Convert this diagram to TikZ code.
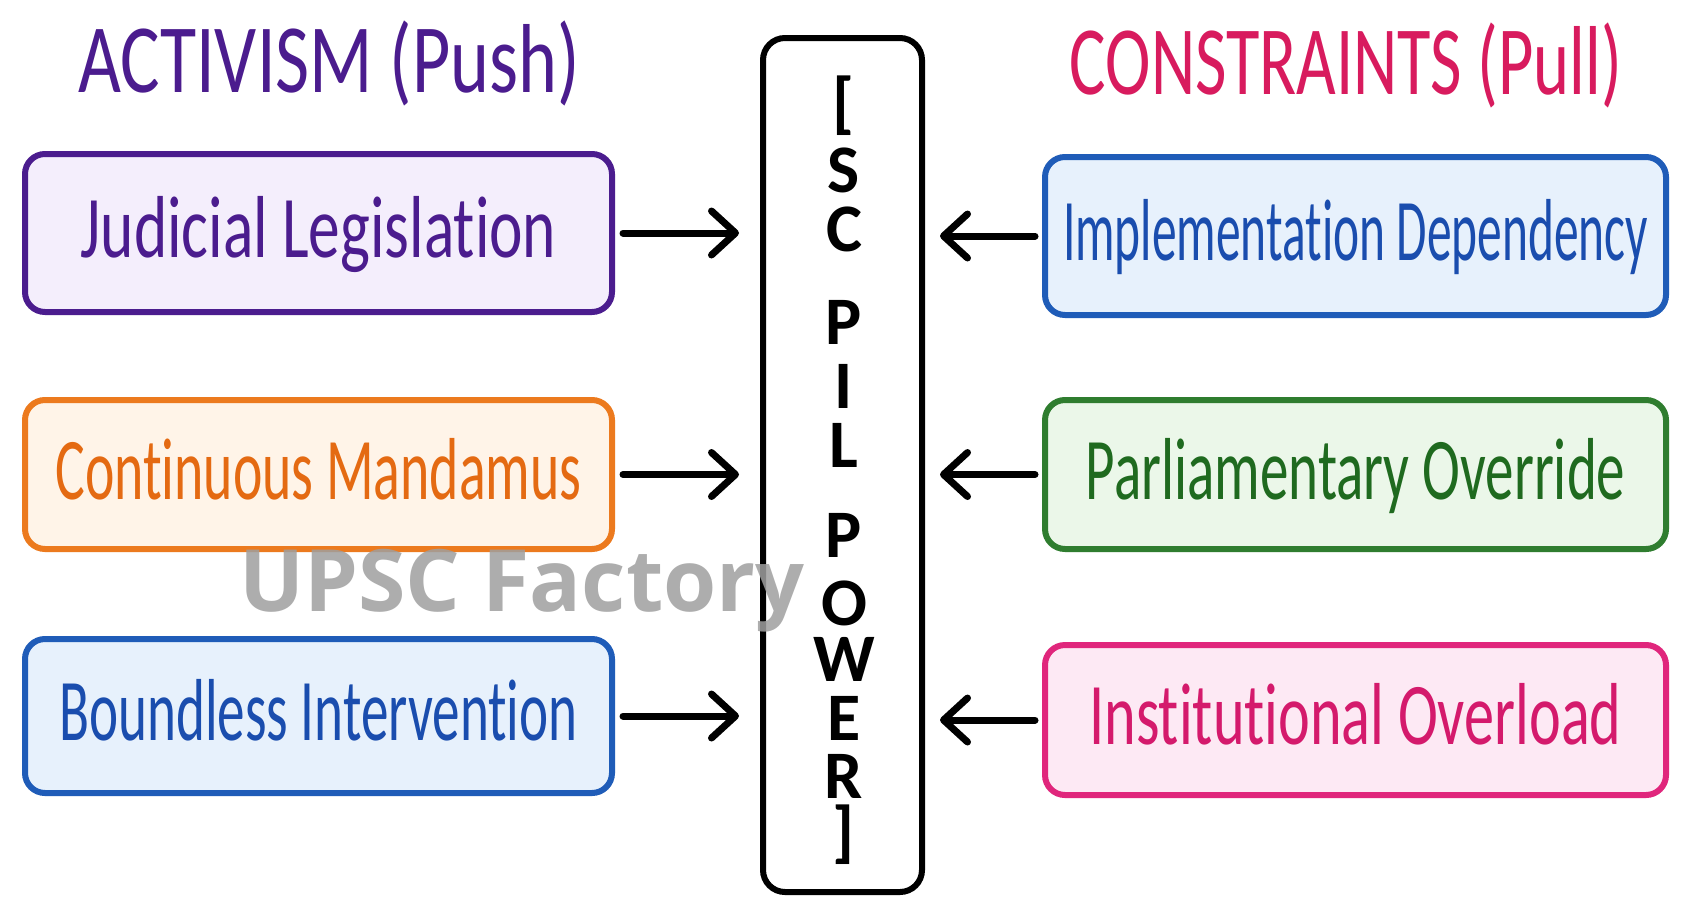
\documentclass[tikz,border=0pt]{standalone}
\usepackage{fontspec}
\usepackage{graphicx}
\setmainfont{Carlito}
\newfontfamily\handfont[FakeStretch=0.72, Ligatures=NoCommon]{Carlito}
\newfontfamily\markfont{Open Sans}
\usetikzlibrary{arrows.meta}
\usetikzlibrary{positioning}

\newcommand{\squeeze}[2]{\scalebox{#1}[1]{#2}}

\definecolor{actpurple}{HTML}{4B1C8E}
\definecolor{actfill}{HTML}{F4EEFC}
\definecolor{conpink}{HTML}{D81B5E}
\definecolor{mandorange}{HTML}{EC7A1E}
\definecolor{mandfill}{HTML}{FFF4E8}
\definecolor{mandtext}{HTML}{E46A12}
\definecolor{bndblue}{HTML}{1F5CB8}
\definecolor{bndfill}{HTML}{E7F1FC}
\definecolor{bndtext}{HTML}{1A4DAE}
\definecolor{ovrgreen}{HTML}{2F7D2F}
\definecolor{ovrfill}{HTML}{EBF7E9}
\definecolor{ovrtext}{HTML}{1F6A1F}
\definecolor{ldpink}{HTML}{E0267C}
\definecolor{ldfill}{HTML}{FDE9F4}
\definecolor{ldtext}{HTML}{D41A6C}

\tikzset{
  pillar/.style={draw, line width=6pt, rounded corners=22pt, minimum width=159pt, minimum height=854pt},
  factor/.style={draw, line width=6pt, rounded corners=20pt, text height=57pt, text depth=8pt, inner sep=0pt,
    font=\handfont\fontsize{88}{90}\selectfont},
  heading/.style={font=\handfont\fontsize{98}{100}\selectfont},
  letterbox/.style={text height=44pt, text depth=0pt, inner sep=0pt, font=\bfseries\fontsize{68}{70}\selectfont},
  pusharrow/.style={line width=7pt, line cap=round, -{Straight Barb[length=24pt,width=44pt,round]}}
}

\begin{document}
\begin{tikzpicture}[x=1pt, y=-1pt]
  \useasboundingbox[fill=white] (0,0) rectangle (1691,919);

  \node[heading, text=actpurple] (act) at (329,63) {\squeeze{1.05}{ACTIVISM (Push)}};
  \node[heading, text=conpink] (con) at (1346,65) {\squeeze{0.97}{CONSTRAINTS (Pull)}};

  \node[pillar] (pil) at (842.5,465) {};
  \foreach \ch/\yy in {{[}/103, S/170, C/229, P/322, I/386, L/445, P/535, O/603, W/659, E/718, R/776, {]}/832}
    \node[letterbox] (ltr\yy) at (844,\yy) {\ch};

  \node[factor, draw=actpurple, fill=actfill, text=actpurple, minimum width=587pt, minimum height=158pt] (jl) at (318.5,233) {Judicial Legislation};
  \node[factor, draw=mandorange, fill=mandfill, text=mandtext, minimum width=587pt, minimum height=149pt] (cm) at (318.5,474.5) {\squeeze{0.88}{Continuous Mandamus}};
  \node[factor, draw=bndblue, fill=bndfill, text=bndtext, minimum width=587pt, minimum height=154pt] (bi) at (318.5,716) {\squeeze{0.87}{Boundless Intervention}};

  \node[factor, draw=bndblue, fill=bndfill, text=bndtext, minimum width=621pt, minimum height=158pt] (id) at (1355.5,236) {\squeeze{0.78}{Implementation Dependency}};
  \node[factor, draw=ovrgreen, fill=ovrfill, text=ovrtext, minimum width=621pt, minimum height=149pt] (po) at (1355.5,474.5) {\squeeze{0.9}{Parliamentary Override}};
  \node[factor, draw=ldpink, fill=ldfill, text=ldtext, minimum width=621pt, minimum height=150pt] (io) at (1355.5,720) {\squeeze{0.95}{Institutional Overload}};

  \draw[pusharrow] ([xshift=8pt]jl.east) -- ([xshift=-21pt]jl.east -| pil.west);
  \draw[pusharrow] ([xshift=8pt]cm.east) -- ([xshift=-21pt]cm.east -| pil.west);
  \draw[pusharrow] ([xshift=8pt]bi.east) -- ([xshift=-21pt]bi.east -| pil.west);

  \draw[pusharrow] ([xshift=-7pt]id.west) -- ([xshift=15pt]id.west -| pil.east);
  \draw[pusharrow] ([xshift=-7pt]po.west) -- ([xshift=15pt]po.west -| pil.east);
  \draw[pusharrow] ([xshift=-7pt]io.west) -- ([xshift=15pt]io.west -| pil.east);

  \node[text=gray!75, opacity=0.85, font=\markfont\bfseries\fontsize{86}{88}\selectfont] (mark) at (522,591) {UPSC Factory};
\end{tikzpicture}
\end{document}
